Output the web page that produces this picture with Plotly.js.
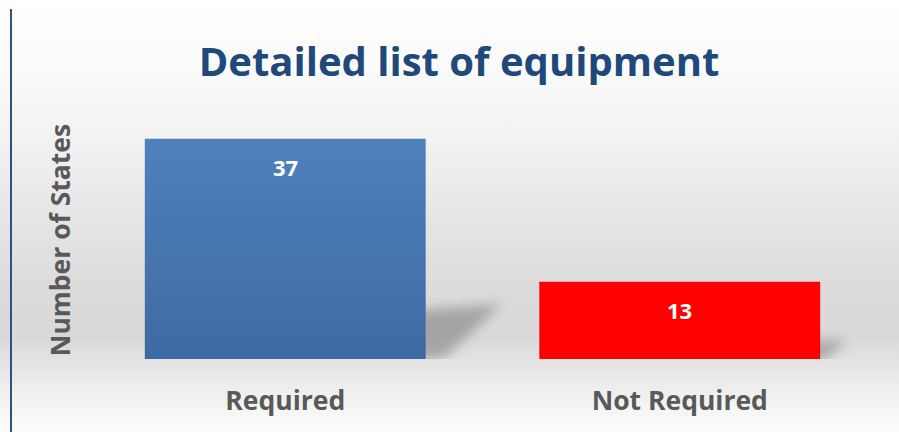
<!DOCTYPE html>
<html>
<head>
<meta charset="utf-8">
<script src="https://cdn.plot.ly/plotly-3.0.1.min.js"></script>
<style>
  html, body { margin: 0; padding: 0; }
  #wrap { position: relative; width: 899px; height: 432px;
    background: linear-gradient(to bottom, #ffffff 0%, #fbfbfb 15%, #f0f0f0 35%, #dcdcdc 65%, #d9d9d9 78%, #eeeeee 90%, #fdfdfd 100%); }
  #leftline { position: absolute; left: 10px; top: 9px; width: 2px; height: 423px; background: #2c5282; }
  #chart { position: absolute; left: 0; top: 0; width: 899px; height: 432px; }
</style>
</head>
<body>
<div id="wrap">
  <div id="leftline"></div>
  <div id="chart"></div>
</div>
<script>
const categories = ["Required", "Not Required"];
const values = [37, 13];
const barColors = ["#4677B3", "#FF0000"];
const titleText = "Detailed list of equipment";
const yTitle = "Number of States";

const FONT = "'Open Sans', sans-serif";
const BARGAP = 0.288;
const HALF = (1 - BARGAP) / 2;

const trace = {
  type: "bar",
  x: categories,
  y: values,
  marker: { color: barColors, line: { width: 0 } },
  hoverinfo: "none",
  showlegend: false
};

const annotations = categories.map((c, i) => ({
  x: c, y: values[i], xref: "x", yref: "y",
  text: "<b>" + values[i] + "</b>",
  showarrow: false, yanchor: "middle", yshift: -28,
  font: { family: FONT, size: 22, color: "#ffffff" }
}));

// soft cast shadows behind each bar (derived from bar value)
const shapes = values.map((h, i) => {
  const r = i + HALF;
  return {
    type: "path", xref: "x", yref: "y", layer: "below",
    path: `M ${r - 0.03} 0 L ${r - 0.03} ${0.22 * h} L ${r + 0.0052 * h} ${0.25 * h} L ${r + 0.0012 * h} 0 Z`,
    fillcolor: "rgba(100,100,100,0.45)", line: { width: 0 }
  };
});

const layout = {
  width: 899, height: 432,
  margin: { l: 88, r: 22, t: 121, b: 73 },
  paper_bgcolor: "rgba(0,0,0,0)",
  plot_bgcolor: "rgba(0,0,0,0)",
  bargap: BARGAP,
  title: {
    text: "<b>" + titleText + "</b>",
    font: { family: FONT, size: 40, color: "#1F497D" },
    xref: "container", yref: "container",
    x: 0.5106, y: 0.856, xanchor: "center", yanchor: "middle"
  },
  xaxis: {
    type: "category",
    range: [-0.5, 1.5],
    showgrid: false, zeroline: false, showline: false, ticks: "",
    ticklabelstandoff: 23,
    tickfont: { family: FONT, size: 26.5, color: "#595959", weight: "bold" }
  },
  yaxis: {
    range: [0, 40],
    showgrid: false, zeroline: false, showline: false, ticks: "",
    showticklabels: false,
    title: {
      text: "<b>" + yTitle + "</b>",
      font: { family: FONT, size: 26.5, color: "#595959" },
      standoff: 8
    }
  },
  shapes: shapes,
  annotations: annotations
};

Plotly.newPlot("chart", [trace], layout, { displayModeBar: false, staticPlot: true }).then(gd => {
  const svg = gd.querySelector("svg.main-svg");
  const ns = "http://www.w3.org/2000/svg";
  let defs = svg.querySelector("defs");
  if (!defs) { defs = document.createElementNS(ns, "defs"); svg.insertBefore(defs, svg.firstChild); }
  const f = document.createElementNS(ns, "filter");
  f.setAttribute("id", "shadowblur");
  f.setAttribute("filterUnits", "userSpaceOnUse");
  f.setAttribute("x", "0"); f.setAttribute("y", "0");
  f.setAttribute("width", "899"); f.setAttribute("height", "432");
  const b = document.createElementNS(ns, "feGaussianBlur");
  b.setAttribute("stdDeviation", "7");
  f.appendChild(b); defs.appendChild(f);
  const g = document.createElementNS(ns, "linearGradient");
  g.setAttribute("id", "bluegrad");
  g.setAttribute("x1", "0"); g.setAttribute("y1", "0"); g.setAttribute("x2", "0"); g.setAttribute("y2", "1");
  [["0", "#4F81BD"], ["1", "#3D6AA3"]].forEach(([o, c]) => {
    const s = document.createElementNS(ns, "stop");
    s.setAttribute("offset", o); s.setAttribute("stop-color", c); g.appendChild(s);
  });
  defs.appendChild(g);
  gd.querySelectorAll(".shapelayer path").forEach(p => {
    p.setAttribute("filter", "url(#shadowblur)");
    p.style.filter = "blur(6px)";
  });
  const bars = gd.querySelectorAll(".trace.bars .point path");
  if (bars[0]) bars[0].style.fill = "url(#bluegrad)";
});
</script>
</body>
</html>
